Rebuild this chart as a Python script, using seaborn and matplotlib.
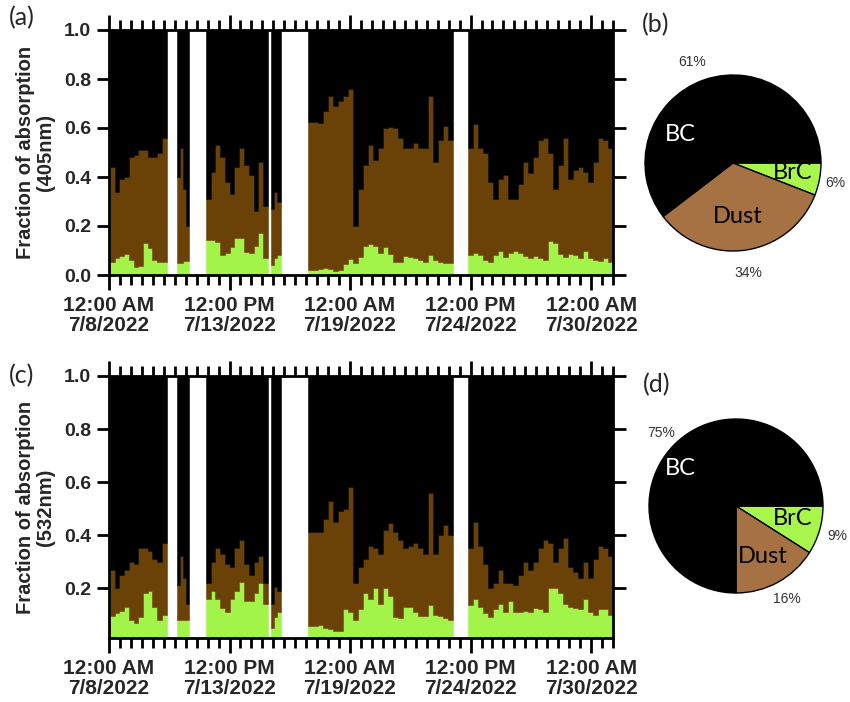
import numpy as np
import matplotlib
matplotlib.use("Agg")
import matplotlib.pyplot as plt
from matplotlib.ticker import FixedLocator, MultipleLocator
import seaborn as sns

# Measurement blocks, in hours since 2022-07-08 00:00 (gaps = no data)
block_start = [1, 74, 106, 177, 217.5, 393]
block_end = [63, 88, 174, 188, 376.5, 551.5]
block_len = [12, 4, 13, 3, 29, 29]

# 405 nm: BrC fraction and BrC+Dust (non-BC) fraction
brc_405 = [0.052, 0.068, 0.079, 0.084, 0.061, 0.034, 0.038, 0.129, 0.109, 0.061, 0.052, 0.054,
           0.05, 0.05, 0.057, 0.057,
           0.143, 0.143, 0.136, 0.08, 0.09, 0.116, 0.15, 0.15, 0.095, 0.09, 0.12, 0.17, 0.07,
           0.04, 0.068, 0.08,
           0.02, 0.022, 0.025, 0.03, 0.025, 0.016, 0.02, 0.045, 0.065, 0.05, 0.075, 0.12, 0.125,
           0.12, 0.09, 0.115, 0.085, 0.054, 0.055, 0.079, 0.075, 0.068, 0.06, 0.054, 0.08, 0.062,
           0.054, 0.05, 0.05,
           0.08, 0.088, 0.08, 0.06, 0.052, 0.08, 0.10, 0.075, 0.088, 0.10, 0.088, 0.078, 0.068,
           0.078, 0.068, 0.06, 0.14, 0.13, 0.085, 0.075, 0.084, 0.08, 0.068, 0.10, 0.068, 0.062,
           0.058, 0.068, 0.055]
nonbc_405 = [0.44, 0.34, 0.39, 0.40, 0.48, 0.49, 0.51, 0.51, 0.48, 0.48, 0.50, 0.56,
             0.40, 0.52, 0.35, 0.20,
             0.31, 0.42, 0.53, 0.48, 0.38, 0.33, 0.44, 0.52, 0.45, 0.41, 0.26, 0.46, 0.28,
             0.27, 0.34, 0.30,
             0.626, 0.626, 0.62, 0.67, 0.73, 0.69, 0.71, 0.73, 0.76, 0.20, 0.35, 0.45, 0.53,
             0.47, 0.52, 0.60, 0.605, 0.60, 0.56, 0.52, 0.52, 0.54, 0.52, 0.52, 0.73, 0.46,
             0.55, 0.61, 0.55,
             0.52, 0.615, 0.52, 0.50, 0.38, 0.31, 0.39, 0.41, 0.31, 0.31, 0.37, 0.46, 0.415,
             0.48, 0.55, 0.56, 0.50, 0.35, 0.45, 0.56, 0.39, 0.43, 0.44, 0.42, 0.38, 0.46,
             0.56, 0.55, 0.52]

# 532 nm
brc_532 = [0.094, 0.106, 0.112, 0.13, 0.08, 0.068, 0.09, 0.18, 0.19, 0.13, 0.08, 0.10,
           0.081, 0.081, 0.081, 0.081,
           0.16, 0.19, 0.16, 0.125, 0.11, 0.16, 0.19, 0.225, 0.15, 0.15, 0.18, 0.22, 0.14,
           0.05, 0.09, 0.11,
           0.056, 0.058, 0.062, 0.05, 0.045, 0.037, 0.04, 0.12, 0.11, 0.08, 0.12, 0.18, 0.16,
           0.20, 0.14, 0.20, 0.17, 0.09, 0.087, 0.13, 0.13, 0.11, 0.095, 0.094, 0.137, 0.10,
           0.094, 0.087, 0.081,
           0.137, 0.16, 0.13, 0.106, 0.09, 0.12, 0.14, 0.11, 0.15, 0.11, 0.11, 0.115, 0.11,
           0.125, 0.12, 0.11, 0.20, 0.20, 0.18, 0.14, 0.13, 0.125, 0.12, 0.16, 0.11, 0.10,
           0.12, 0.12, 0.10]
nonbc_532 = [0.27, 0.20, 0.25, 0.27, 0.30, 0.29, 0.35, 0.35, 0.34, 0.31, 0.30, 0.37,
             0.21, 0.32, 0.24, 0.14,
             0.22, 0.30, 0.35, 0.33, 0.29, 0.28, 0.35, 0.38, 0.29, 0.25, 0.30, 0.32, 0.22,
             0.14, 0.205, 0.19,
             0.41, 0.41, 0.41, 0.46, 0.53, 0.45, 0.49, 0.50, 0.58, 0.22, 0.28, 0.31, 0.36,
             0.35, 0.33, 0.42, 0.445, 0.41, 0.38, 0.35, 0.36, 0.37, 0.35, 0.33, 0.56, 0.33,
             0.40, 0.44, 0.40,
             0.35, 0.45, 0.36, 0.29, 0.20, 0.22, 0.27, 0.22, 0.22, 0.21, 0.25, 0.30, 0.27,
             0.30, 0.35, 0.38, 0.37, 0.30, 0.35, 0.39, 0.28, 0.26, 0.24, 0.30, 0.24, 0.31,
             0.36, 0.35, 0.32]

# Campaign-mean contributions (%)
pie_labels = ["BrC", "Dust", "BC"]
pie_405 = [6, 34, 61]
pie_532 = [9, 16, 75]

x_tick_hours = [0, 132, 264, 396, 528]
x_tick_labels = ["12:00 AM\n7/8/2022", "12:00 PM\n7/13/2022", "12:00 AM\n7/19/2022",
                 "12:00 PM\n7/24/2022", "12:00 AM\n7/30/2022"]

GREEN = "#A2F448"
BROWN = "#6A4207"
PIE_GREEN = "#A8F54C"
PIE_BROWN = "#A67244"

sns.set_style("ticks")
plt.rcParams["font.family"] = ["Liberation Sans", "DejaVu Sans"]

fig = plt.figure(figsize=(8.5, 7.02), dpi=100)
W, H = 850, 702


def px_axes(left, top, right, bottom):
    return fig.add_axes([left / W, 1 - bottom / H, (right - left) / W, (bottom - top) / H])


def draw_series(ax, brc, nonbc):
    i0 = 0
    for s, e, n in zip(block_start, block_end, block_len):
        edges = np.linspace(s, e, n + 1)
        g = np.r_[brc[i0:i0 + n], brc[i0 + n - 1]]
        t = np.r_[nonbc[i0:i0 + n], nonbc[i0 + n - 1]]
        ax.fill_between(edges, 0, g, step="post", facecolor=GREEN, edgecolor=GREEN, lw=0.4)
        ax.fill_between(edges, g, t, step="post", facecolor=BROWN, edgecolor=BROWN, lw=0.4)
        ax.fill_between(edges, t, 1.0, step="post", facecolor="black", edgecolor="black", lw=0.4)
        i0 += n


def style_axis(ax, ymin, yticks, ylabel):
    ax.set_xlim(0, 552)
    ax.set_ylim(ymin, 1.0)
    ax.xaxis.set_major_locator(FixedLocator(x_tick_hours))
    ax.xaxis.set_minor_locator(MultipleLocator(12))
    ax.set_xticklabels(x_tick_labels, fontsize=15, fontweight="bold", linespacing=1.1)
    ax.set_yticks(yticks)
    ax.set_yticklabels([f"{v:.1f}" for v in yticks], fontsize=14, fontweight="bold")
    ax.tick_params(which="both", direction="out", top=True, right=True,
                   labeltop=False, labelright=False, width=2, color="black")
    ax.tick_params(which="major", length=11, pad=4)
    ax.tick_params(which="minor", length=7)
    ax.tick_params(axis="y", which="major", length=9)
    for sp in ax.spines.values():
        sp.set_visible(True)
        sp.set_linewidth(2)
        sp.set_color("black")
    ax.set_ylabel(ylabel, fontsize=14.5, fontweight="bold", linespacing=1.1, labelpad=6)
    ax.set_facecolor("white")


ax_a = px_axes(109, 30, 613, 275)
draw_series(ax_a, brc_405, nonbc_405)
style_axis(ax_a, 0.0, [0.0, 0.2, 0.4, 0.6, 0.8, 1.0], "Fraction of absorption\n(405nm)")

ax_c = px_axes(109, 376, 613, 638)
draw_series(ax_c, brc_532, nonbc_532)
style_axis(ax_c, 0.012, [0.2, 0.4, 0.6, 0.8, 1.0], "Fraction of absorption\n(532nm)")


def draw_pie(cx, cy, r, values, inner_pos, pct_pos):
    lim = 1.3
    half = lim * r
    ax = px_axes(cx - half, cy - half, cx + half, cy + half)
    ax.pie(values, colors=[PIE_GREEN, PIE_BROWN, "black"], startangle=0, counterclock=False,
           normalize=True, wedgeprops=dict(edgecolor="black", linewidth=1.0))
    ax.set_xlim(-lim, lim)
    ax.set_ylim(-lim, lim)
    ax.axis("off")
    for lab, (x, y) in zip(pie_labels, inner_pos):
        ax.text(x, y, lab, ha="center", va="center", fontsize=17,
                color="white" if lab == "BC" else "black", family=["Lato", "DejaVu Sans"])
    for v, (x, y) in zip(values, pct_pos):
        ax.text(x, y, f"{v}%", ha="center", va="center", fontsize=10, color="#333333")
    return ax


draw_pie(733, 163, 88, pie_405,
         inner_pos=[(0.68, -0.11), (0.05, -0.61), (-0.60, 0.32)],
         pct_pos=[(1.16, -0.23), (0.17, -1.25), (-0.47, 1.15)])
draw_pie(736, 506, 87, pie_532,
         inner_pos=[(0.65, -0.14), (0.31, -0.58), (-0.64, 0.43)],
         pct_pos=[(1.16, -0.35), (0.58, -1.07), (-0.86, 0.84)])

for lab, x, y in [("(a)", 22, 18), ("(b)", 656, 25), ("(c)", 22, 376), ("(d)", 657, 385)]:
    fig.text(x / W, 1 - y / H, lab, ha="center", va="center", fontsize=18,
             family=["Lato", "DejaVu Sans"])

fig.savefig("out.png", dpi=100)
